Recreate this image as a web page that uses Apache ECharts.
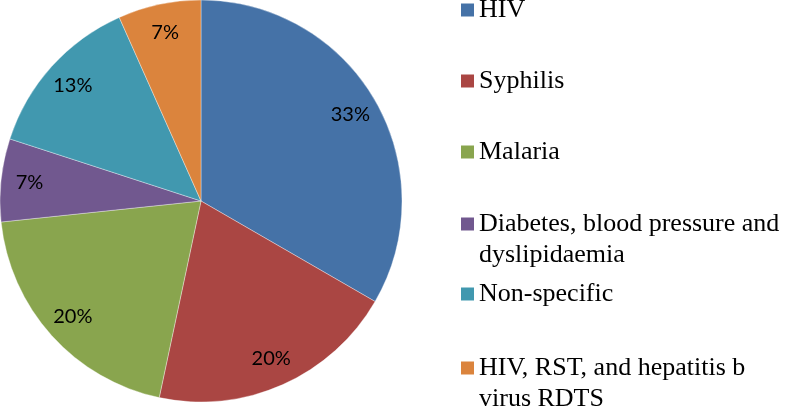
<!DOCTYPE html>
<html>
<head>
<meta charset="utf-8">
<script src="https://cdn.jsdelivr.net/npm/echarts@6/dist/echarts.min.js"></script>
<style>
html,body{margin:0;padding:0;background:#fff;}
#c{width:787px;height:406px;}
</style>
</head>
<body>
<div id="c"></div>
<script>
var categories = ['HIV', 'Syphilis', 'Malaria', 'Diabetes, blood pressure and dyslipidaemia', 'Non-specific', 'HIV, RST, and hepatitis b virus RDTS'];
var legendLabels = ['HIV', 'Syphilis', 'Malaria', 'Diabetes, blood pressure and\ndyslipidaemia', 'Non-specific', 'HIV, RST, and hepatitis b\nvirus RDTS'];
var values = [5, 3, 3, 1, 2, 1];
var colors = ['#4572A7', '#AA4643', '#89A54E', '#71588F', '#4198AF', '#DB843D'];

var chart = echarts.init(document.getElementById('c'), null, {renderer: 'canvas'});

var data = categories.map(function (n, i) {
  return {name: n, value: values[i], itemStyle: {color: colors[i]}};
});

var markerCenters = [10, 81, 152, 224, 294, 368];
var lineH = 31;
var legends = categories.map(function (n, i) {
  var twoLine = legendLabels[i].indexOf('\n') >= 0;
  return {
    show: true,
    orient: 'vertical',
    left: 461,
    top: twoLine ? markerCenters[i] - lineH * 1.5 : markerCenters[i] - lineH / 2,
    padding: 0,
    itemWidth: 13,
    itemHeight: 13,
    itemGap: 0,
    itemStyle: {borderWidth: 0},
    icon: 'rect',
    selectedMode: false,
    data: [{name: n, itemStyle: {color: colors[i]}}],
    formatter: function () { return twoLine ? ' \n' + legendLabels[i] : legendLabels[i]; },
    textStyle: {
      fontFamily: 'Liberation Serif',
      fontSize: 26,
      lineHeight: lineH,
      color: '#000'
    }
  };
});

chart.setOption({
  animation: false,
  legend: legends,
  series: [
    {
      type: 'pie',
      center: [201, 201],
      radius: [0, 201],
      startAngle: 90,
      clockwise: true,
      silent: true,
      label: {show: false},
      labelLine: {show: false},
      itemStyle: {borderColor: 'rgba(255,255,255,0.35)', borderWidth: 1},
      data: data
    },
    {
      type: 'pie',
      center: [201, 201],
      radius: [138, 201],
      startAngle: 90,
      clockwise: true,
      silent: true,
      legendHoverLink: false,
      itemStyle: {color: 'rgba(0,0,0,0)', borderWidth: 0},
      label: {
        show: true,
        position: 'inside',
        formatter: function (p) { return Math.round(p.percent) + '%'; },
        fontFamily: 'Lato',
        fontSize: 20,
        color: '#000'
      },
      labelLine: {show: false},
      data: categories.map(function (n, i) { return {name: n + ' ', value: values[i]}; })
    }
  ]
});
</script>
</body>
</html>
